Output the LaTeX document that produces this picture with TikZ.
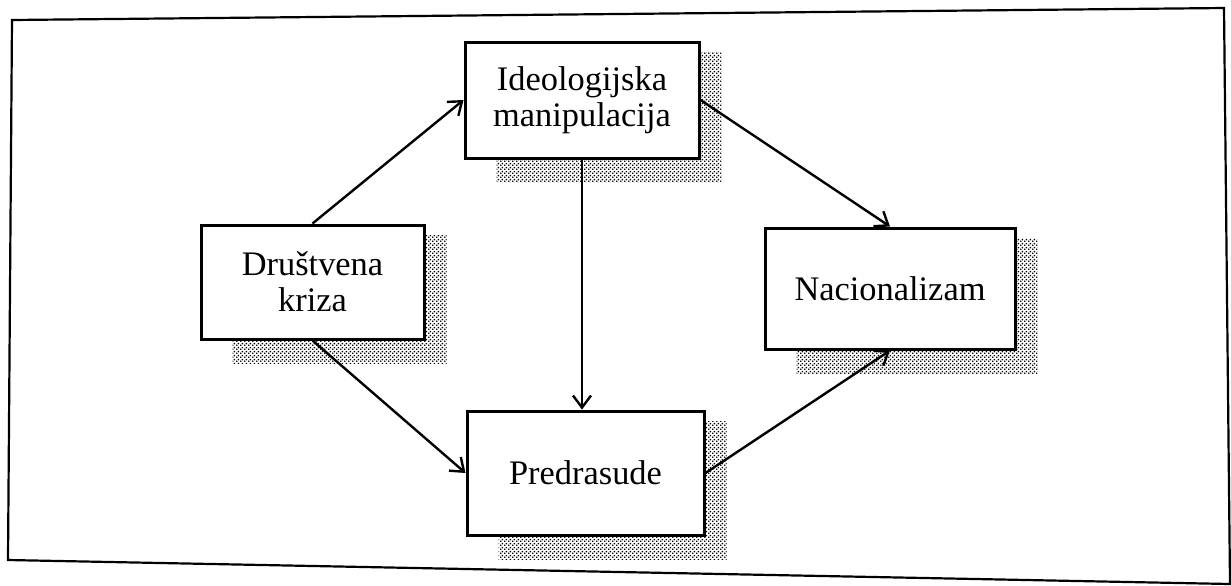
\documentclass[tikz,border=0pt]{standalone}
\usepackage{fontspec}
\setmainfont{Liberation Serif}
\usetikzlibrary{arrows.meta,patterns.meta}
\pgfdeclarelayer{bg}
\pgfsetlayers{bg,main}
% fine checkered dots for the shadows
\pgfdeclarepattern{
  name=finedots, type=uncolored,
  bottom left={\pgfpoint{0pt}{0pt}}, top right={\pgfpoint{2pt}{2pt}},
  tile size={\pgfpoint{2pt}{2pt}},
  code={
    \pgfpathcircle{\pgfpoint{0.5pt}{0.5pt}}{0.55pt}
    \pgfpathcircle{\pgfpoint{1.5pt}{1.5pt}}{0.55pt}
    \pgfusepath{fill}
  }}
\tikzset{
  box/.style={draw, line width=1.5pt, fill=white, align=center, inner sep=0pt,
    font=\fontsize{17.2}{18}\selectfont},
  shadow/.style={pattern=finedots, pattern color=black},
  link/.style={->, line width=1.2pt},
}
\begin{document}
\begin{tikzpicture}[x=0.5pt,y=-0.5pt,>={Straight Barb[length=6pt,width=9pt]}]
  \useasboundingbox (0,0) rectangle (1231,585);
  % frame
  \coordinate (fnw) at (12,20);
  \coordinate (fne) at (1224,8);
  \coordinate (fse) at (1230,584);
  \coordinate (fsw) at (8,560);
  \draw[line width=1.1pt] (fnw) -- (fne) -- (fse) -- (fsw) -- cycle;
  % boxes
  \node[box, minimum width=111.5pt, minimum height=57pt] (kriza) at (312.5,282) {Društvena\\kriza};
  \node[box, minimum width=117pt, minimum height=58pt] (ideo) at (582,100) {Ideologijska\\manipulacija};
  \node[box, minimum width=118.5pt, minimum height=62pt] (predr) at (585.5,473) {Predrasude};
  \node[box, minimum width=125pt, minimum height=60.5pt] (nacio) at (890,288.5) {Nacionalizam};
  % shadows
  \begin{pgfonlayer}{bg}
    \foreach \b in {kriza,ideo,predr,nacio} {
      \fill[shadow] ([xshift=16.5pt,yshift=-11.5pt]\b.south west) rectangle ([xshift=10.5pt,yshift=-6pt]\b.north east);
    }
  \end{pgfonlayer}
  % links
  \draw[link] (kriza.north) -- (ideo.west);
  \draw[link] (kriza.south) -- (predr.west);
  \draw[link] (ideo.south) -- (ideo.south |- predr.north);
  \draw[link] (ideo.east) -- (nacio.north);
  \draw[link] (predr.east) -- (nacio.south);
\end{tikzpicture}
\end{document}
